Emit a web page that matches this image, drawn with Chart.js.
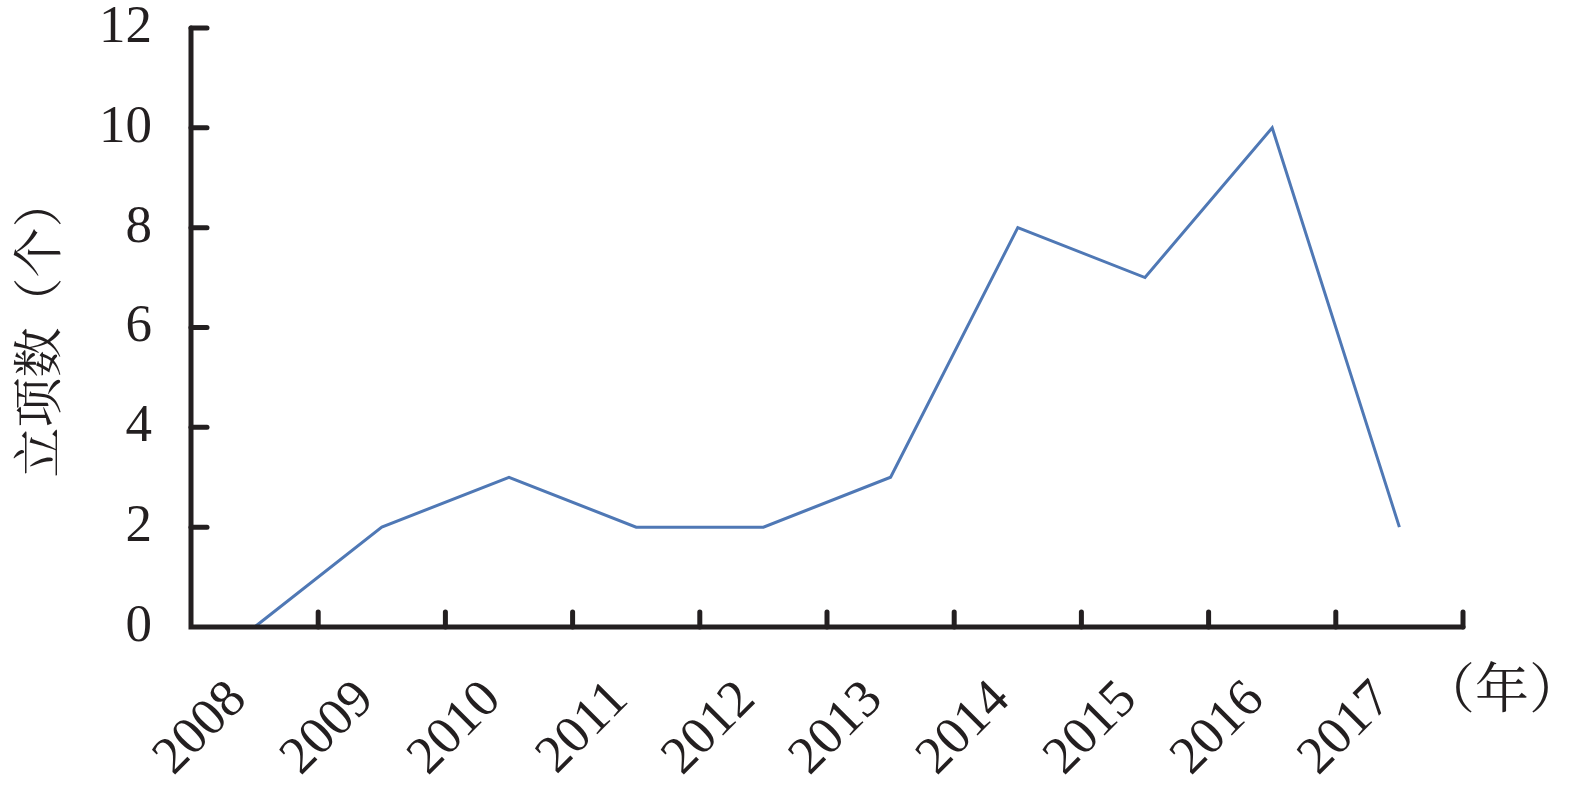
<!DOCTYPE html>
<html>
<head>
<meta charset="utf-8">
<script src="https://cdn.jsdelivr.net/npm/chart.js@4"></script>
<style>
html,body{margin:0;padding:0;background:#fff;}
canvas{display:block;}
</style>
</head>
<body>
<canvas id="c" width="1575" height="789"></canvas>
<script>
const years = ['2008','2009','2010','2011','2012','2013','2014','2015','2016','2017'];
const projectCounts = [0, 2, 3, 2, 2, 3, 8, 7, 10, 2];
const yTickValues = [0, 2, 4, 6, 8, 10, 12];
const yTitle = '立项数（个）';
const xUnit = '（年）';

const INK = '#231f20';
const SERIF = "'Liberation Serif', 'Times New Roman', 'Noto Serif CJK SC', 'Noto Sans CJK SC', serif";

const axesPlugin = {
  id: 'axesPlugin',
  afterDatasetsDraw(chart) {
    const ctx = chart.ctx;
    const xs = chart.scales.x, ys = chart.scales.y;
    const y0 = ys.getPixelForValue(0);
    const yTop = ys.getPixelForValue(12);
    const xl = xs.left, xr = xs.right;
    ctx.save();
    ctx.strokeStyle = INK;
    ctx.lineWidth = 5;
    ctx.lineCap = 'round';
    ctx.beginPath();
    ctx.moveTo(xl, yTop); ctx.lineTo(xl, y0); ctx.lineTo(xr, y0);
    ctx.stroke();
    // y ticks (inward)
    yTickValues.forEach(v => {
      if (v === 0) return;
      const p = ys.getPixelForValue(v);
      ctx.beginPath(); ctx.moveTo(xl, p); ctx.lineTo(xl + 16, p); ctx.stroke();
    });
    // x ticks at category boundaries (inward)
    for (let i = 0; i < years.length; i++) {
      let p;
      if (i < years.length - 1) p = (xs.getPixelForValue(i) + xs.getPixelForValue(i + 1)) / 2;
      else p = xr;
      ctx.beginPath(); ctx.moveTo(p, y0); ctx.lineTo(p, y0 - 15); ctx.stroke();
    }
    // unit label
    ctx.fillStyle = INK;
    ctx.font = "54px " + SERIF;
    ctx.textAlign = 'left';
    ctx.textBaseline = 'middle';
    ctx.fillText(xUnit, xr - 42, y0 + 67);
    ctx.restore();
  }
};

new Chart(document.getElementById('c'), {
  type: 'line',
  data: {
    labels: years,
    datasets: [{
      data: projectCounts,
      borderColor: '#4f78b5',
      borderWidth: 3,
      pointRadius: 0,
      tension: 0,
      fill: false,
      clip: false
    }]
  },
  options: {
    responsive: false,
    animation: false,
    devicePixelRatio: 1,
    layout: { padding: { left: 0, right: 112, top: 28, bottom: 0 } },
    plugins: { legend: { display: false }, tooltip: { enabled: false } },
    scales: {
      x: {
        type: 'category',
        offset: true,
        grid: { display: false, drawTicks: false },
        border: { display: false },
        ticks: {
          color: INK,
          font: { family: SERIF, size: 53 },
          minRotation: 45,
          maxRotation: 45,
          autoSkip: false,
          padding: 42,
          labelOffset: -16
        },
        afterFit(scale) {
          scale.height = 162;
          scale.paddingLeft = 0; scale.paddingRight = 0;
          scale.paddingTop = 0; scale.paddingBottom = 0;
        }
      },
      y: {
        min: 0,
        max: 12,
        grid: { display: false, drawTicks: false },
        border: { display: false },
        ticks: {
          stepSize: 2,
          color: INK,
          font: { family: SERIF, size: 53 },
          padding: 39
        },
        title: {
          display: true,
          text: yTitle,
          color: INK,
          font: { family: SERIF, size: 50 },
          padding: { top: 13, bottom: 0 }
        },
        afterFit(scale) {
          scale.width = 191;
          scale.paddingTop = 0; scale.paddingBottom = 0;
          scale.paddingLeft = 0; scale.paddingRight = 0;
        }
      }
    }
  },
  plugins: [axesPlugin]
});
</script>
</body>
</html>
